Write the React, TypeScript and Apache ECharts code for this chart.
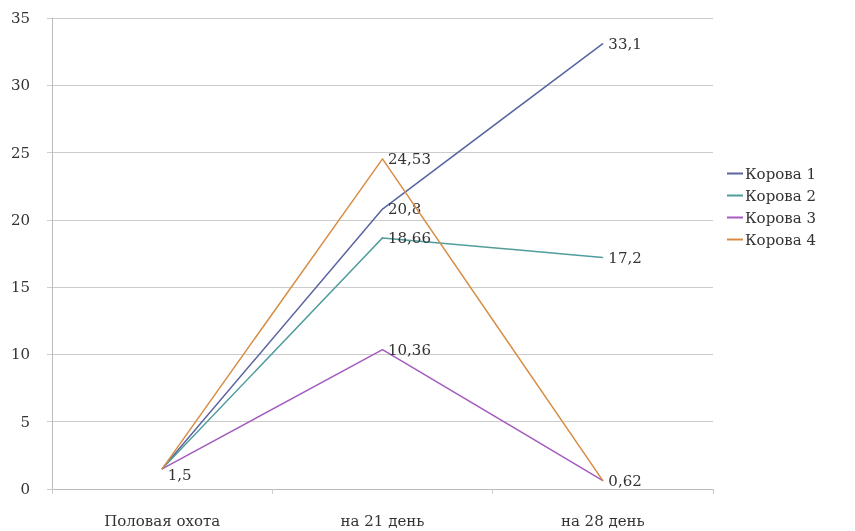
import React, { useEffect, useRef } from "react";
import * as echarts from "echarts";

const categories = ["Половая охота", "на 21 день", "на 28 день"];
const seriesNames = ["Корова 1", "Корова 2", "Корова 3", "Корова 4"];
const cow1 = [1.5, 20.8, 33.1];
const cow2 = [1.5, 18.66, 17.2];
const cow3 = [1.5, 10.36, 0.62];
const cow4 = [1.5, 24.53, 0.62];
const yTicks = [0, 5, 10, 15, 20, 25, 30, 35];
const colors = ["#5a64a0", "#4f9d9c", "#a45cbf", "#d88d44"];

const FONT = "'DejaVu Serif', 'Liberation Serif', serif";

const fmt = (v: number) => String(v).replace(".", ",");

export default function App() {
  const ref = useRef<HTMLDivElement>(null);
  useEffect(() => {
    if (!ref.current) return;
    const chart = echarts.init(ref.current, null, { renderer: "svg" });
    const lbl = (show: boolean, dy = 0) => ({
      show,
      position: "right" as const,
      distance: 5,
      offset: [0, dy],
      color: "#333",
      fontFamily: FONT,
      fontSize: 15,
      formatter: (p: any) => fmt(p.value),
    });
    const mk = (vals: number[], showIdx: number[]) =>
      vals.map((v, i) => ({
        value: v,
        label: lbl(showIdx.includes(i), i === 0 ? 6 : 0),
      }));
    const all = [cow1, cow2, cow3, cow4];
    const shows = [[1, 2], [1, 2], [0, 1, 2], [1]];
    chart.setOption({
      animation: false,
      color: colors,
      grid: { left: 52, right: 142, top: 18, bottom: 42, containLabel: false },
      legend: {
        orient: "vertical",
        left: 722,
        top: 161,
        itemWidth: 16,
        itemHeight: 2,
        itemGap: 7,
        icon: "rect",
        textStyle: { fontFamily: FONT, fontSize: 15, color: "#333", padding: [0, 0, 0, -3] },
        data: seriesNames,
      },
      xAxis: {
        type: "category",
        data: categories,
        boundaryGap: true,
        axisLine: { lineStyle: { color: "#bbb" } },
        axisTick: { show: true, length: 5, lineStyle: { color: "#ccc" } },
        axisLabel: { fontFamily: FONT, fontSize: 15, color: "#333", margin: 24 },
      },
      yAxis: {
        type: "value",
        min: 0,
        max: 35,
        interval: 5,
        axisLine: { show: true, lineStyle: { color: "#bbb" } },
        axisTick: { show: true, length: 5, lineStyle: { color: "#ccc" } },
        splitLine: { lineStyle: { color: "#ccc" } },
        axisLabel: {
          fontFamily: FONT,
          fontSize: 15,
          color: "#333",
          margin: 22,
          formatter: (v: number) => (yTicks.includes(v) ? String(v) : ""),
        },
      },
      series: seriesNames.map((n, i) => ({
        name: n,
        type: "line",
        data: mk(all[i], shows[i]),
        symbol: "circle",
        symbolSize: 1,
        showSymbol: true,
        itemStyle: { color: colors[i] },
        lineStyle: { width: 1.5, color: colors[i] },
        z: 2 + i,
      })),
    });
    return () => chart.dispose();
  }, []);
  return (
    <div
      ref={ref}
      style={{ position: "fixed", left: 0, top: 0, width: 855, height: 531, overflow: "hidden" }}
    />
  );
}
